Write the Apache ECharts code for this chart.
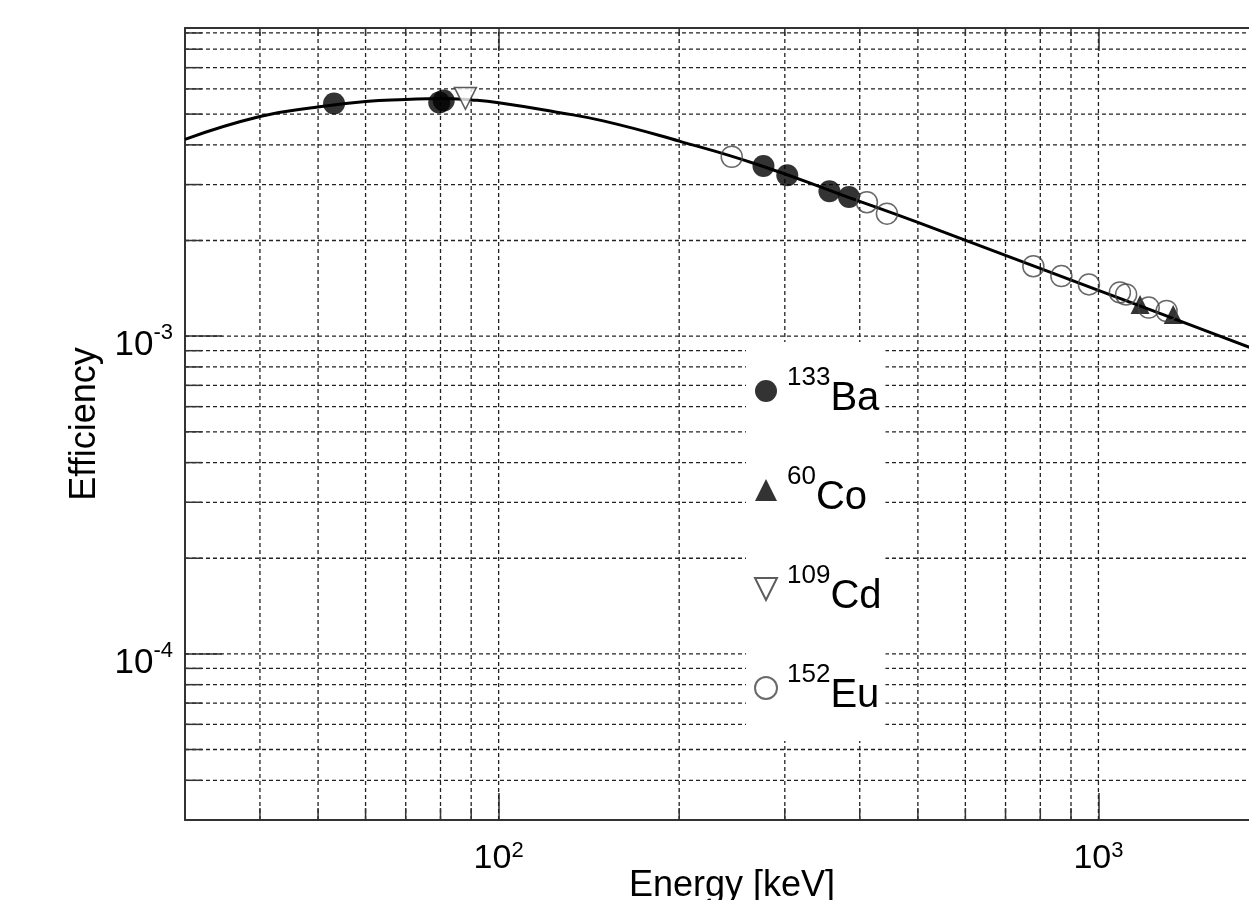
<!DOCTYPE html>
<html>
<head>
<meta charset="utf-8">
<script src="https://cdn.jsdelivr.net/npm/echarts@6/dist/echarts.min.js"></script>
<style>
  html, body { margin: 0; padding: 0; background: #fff; }
  #chart { width: 1249px; height: 900px; }
</style>
</head>
<body>
<div id="chart"></div>
<script>
// axis ranges
const xMin = 30, xMax = 2000
const yMin = 3e-5, yMax = 9.33e-3

// grid lines (dashed) and minor tick positions
const xGridValues = [40, 50, 60, 70, 80, 90, 100, 200, 300, 400, 500, 600, 700, 800, 900, 1000]
const yGridValues = [4e-5, 5e-5, 6e-5, 7e-5, 8e-5, 9e-5, 1e-4,
  2e-4, 3e-4, 4e-4, 5e-4, 6e-4, 7e-4, 8e-4, 9e-4, 1e-3,
  2e-3, 3e-3, 4e-3, 5e-3, 6e-3, 7e-3, 8e-3, 9e-3]
const xMinorTicks = [40, 50, 60, 70, 80, 90, 200, 300, 400, 500, 600, 700, 800, 900]
const yMinorTicks = [4e-5, 5e-5, 6e-5, 7e-5, 8e-5, 9e-5,
  2e-4, 3e-4, 4e-4, 5e-4, 6e-4, 7e-4, 8e-4, 9e-4,
  2e-3, 3e-3, 4e-3, 5e-3, 6e-3, 7e-3, 8e-3, 9e-3]

// sources
const isotopeMass = ['133', '60', '109', '152']
const isotopeName = ['Ba', 'Co', 'Cd', 'Eu']
const seriesNames = isotopeMass.map((m, i) => m + isotopeName[i])

// [energy keV, efficiency]
const ba133 = [[53.16, 5.40e-3], [79.61, 5.44e-3], [80.99, 5.52e-3], [276.4, 3.43e-3],
  [302.85, 3.21e-3], [356.01, 2.86e-3], [383.85, 2.74e-3]]
const co60 = [[1173.2, 1.258e-3], [1332.5, 1.17e-3]]
const cd109 = [[88.03, 5.60e-3]]
const eu152 = [[244.7, 3.67e-3], [411.1, 2.64e-3], [444.0, 2.43e-3], [778.9, 1.66e-3],
  [867.4, 1.545e-3], [964.1, 1.455e-3], [1085.8, 1.373e-3], [1112.1, 1.353e-3],
  [1212.9, 1.23e-3], [1299.1, 1.20e-3]]

// efficiency curve
const fitCurve = [[30, 4.16e-3], [40, 4.91e-3], [50, 5.26e-3], [60, 5.48e-3], [70, 5.56e-3],
  [80, 5.6e-3], [90, 5.54e-3], [100, 5.43e-3], [125, 5.07e-3], [150, 4.75e-3],
  [200, 4.11e-3], [270, 3.47e-3], [380, 2.75e-3], [500, 2.28e-3], [700, 1.795e-3],
  [1000, 1.393e-3], [1500, 1.045e-3], [2000, 8.5e-4]]

const chart = echarts.init(document.getElementById('chart'))

const font = 'Liberation Sans, Arial, sans-serif'
const ink = '#333'
const gridStyle = { stroke: '#222', lineWidth: 1.3, lineDash: [4, 3] }

function isDecade(v) {
  const e = Math.log10(v)
  return Math.abs(e - Math.round(e)) < 1e-6
}

// dashed grid, through the axis scales
function xGridItem(params, api) {
  const b = api.coord([api.value(0), yMin])
  const t = api.coord([api.value(0), yMax])
  return { type: 'line', shape: { x1: b[0], y1: b[1], x2: t[0], y2: t[1] }, style: gridStyle }
}
function yGridItem(params, api) {
  const l = api.coord([xMin, api.value(1)])
  const r = api.coord([xMax, api.value(1)])
  return { type: 'line', shape: { x1: l[0], y1: l[1], x2: r[0], y2: r[1] }, style: gridStyle }
}

// minor ticks drawn inside the frame
function xTickItem(params, api) {
  const b = api.coord([api.value(0), yMin])
  const t = api.coord([api.value(0), yMax])
  return {
    type: 'group',
    children: [
      { type: 'line', shape: { x1: b[0], y1: b[1], x2: b[0], y2: b[1] - 12 }, style: { stroke: ink, lineWidth: 1.5 } },
      { type: 'line', shape: { x1: t[0], y1: t[1], x2: t[0], y2: t[1] + 8 }, style: { stroke: ink, lineWidth: 1.5 } }
    ]
  }
}
function yTickItem(params, api) {
  const l = api.coord([xMin, api.value(1)])
  return {
    type: 'line',
    shape: { x1: l[0], y1: l[1], x2: l[0] + 17, y2: l[1] },
    style: { stroke: ink, lineWidth: 1.5 }
  }
}

const option = {
  animation: false,
  backgroundColor: '#fff',
  grid: { left: 185, right: -30, top: 28, bottom: 80, outerBoundsMode: 'none' },
  legend: {
    data: seriesNames,
    orient: 'vertical',
    left: 746,
    top: 342,
    z: 50,
    padding: [21, 4, 25, 8],
    backgroundColor: '#fff',
    itemWidth: 22,
    itemHeight: 22,
    itemGap: 43,
    selectedMode: false,
    formatter: name => {
      const i = seriesNames.indexOf(name)
      return '{sup|' + isotopeMass[i] + '}{el|' + isotopeName[i] + '}'
    },
    textStyle: {
      rich: {
        sup: { fontFamily: font, fontSize: 26, lineHeight: 20, padding: [0, 0, 0, 5], verticalAlign: 'top', color: '#000' },
        el: { fontFamily: font, fontSize: 40, lineHeight: 52, padding: [16, 0, 0, 0], color: '#000' }
      }
    }
  },
  xAxis: [
    {
      type: 'log',
      min: xMin,
      max: xMax,
      name: 'Energy [keV]',
      nameLocation: 'middle',
      nameGap: 48,
      nameMoveOverlap: false,
      nameTextStyle: { fontFamily: font, fontSize: 36, color: '#000' },
      axisLine: { lineStyle: { color: ink, width: 2 } },
      axisTick: { inside: true, length: 27, lineStyle: { color: ink, width: 1.5 } },
      axisLabel: {
        margin: 20,
        formatter: v => isDecade(v) ? '{b|10}{s|' + Math.round(Math.log10(v)) + '}' : '',
        rich: {
          b: { fontFamily: font, fontSize: 34, lineHeight: 36, verticalAlign: 'bottom', color: '#000' },
          s: { fontFamily: font, fontSize: 22, lineHeight: 10, verticalAlign: 'top', color: '#000' }
        }
      },
      splitLine: { show: false }
    },
    {
      type: 'log',
      min: xMin,
      max: xMax,
      position: 'top',
      axisLine: { lineStyle: { color: ink, width: 2 } },
      axisTick: { inside: true, length: 23, lineStyle: { color: ink, width: 1.5 } },
      axisLabel: { show: false },
      splitLine: { show: false }
    }
  ],
  yAxis: {
    type: 'log',
    min: yMin,
    max: yMax,
    name: 'Efficiency',
    nameLocation: 'middle',
    nameGap: 82,
    nameMoveOverlap: false,
    nameTextStyle: { fontFamily: font, fontSize: 36, color: '#000' },
    axisLine: { lineStyle: { color: ink, width: 2 } },
    axisTick: { inside: true, length: 37, lineStyle: { color: ink, width: 1.5 } },
    axisLabel: {
      margin: 12,
      formatter: v => isDecade(v) ? '{b|10}{s|' + Math.round(Math.log10(v)) + '}' : '',
      rich: {
        b: { fontFamily: font, fontSize: 35, lineHeight: 28, padding: [6, 0, 0, 0], verticalAlign: 'top', color: '#000' },
        s: { fontFamily: font, fontSize: 22, lineHeight: 14, verticalAlign: 'top', color: '#000' }
      }
    },
    splitLine: { show: false }
  },
  series: [
    {
      name: 'xGrid',
      type: 'custom',
      renderItem: xGridItem,
      data: xGridValues.map(v => [v, yMin]),
      silent: true,
      z: 1
    },
    {
      name: 'yGrid',
      type: 'custom',
      renderItem: yGridItem,
      data: yGridValues.map(v => [xMin, v]),
      silent: true,
      z: 1
    },
    {
      name: 'xMinor',
      type: 'custom',
      renderItem: xTickItem,
      data: xMinorTicks.map(v => [v, yMin]),
      silent: true,
      z: 2
    },
    {
      name: 'yMinor',
      type: 'custom',
      renderItem: yTickItem,
      data: yMinorTicks.map(v => [xMin, v]),
      silent: true,
      z: 2
    },
    {
      name: 'fit',
      type: 'line',
      data: fitCurve,
      smooth: true,
      showSymbol: false,
      lineStyle: { color: '#000', width: 3 },
      silent: true,
      z: 3
    },
    {
      name: seriesNames[0],
      type: 'scatter',
      data: ba133,
      symbol: 'circle',
      symbolSize: 22,
      itemStyle: { color: '#000' },
      z: 4
    },
    {
      name: seriesNames[1],
      type: 'scatter',
      data: co60,
      symbol: 'triangle',
      symbolSize: 19,
      itemStyle: { color: '#000' },
      z: 4
    },
    {
      name: seriesNames[2],
      type: 'scatter',
      data: cd109,
      symbol: 'path://M0,0 L20,0 L10,20 Z',
      symbolSize: 22,
      itemStyle: { color: '#fff', borderColor: '#333', borderWidth: 1.5 },
      z: 4
    },
    {
      name: seriesNames[3],
      type: 'scatter',
      data: eu152,
      symbol: 'circle',
      symbolSize: 21,
      itemStyle: { color: 'transparent', borderColor: '#444', borderWidth: 1.5 },
      z: 4
    }
  ]
}

chart.setOption(option)
</script>
</body>
</html>
